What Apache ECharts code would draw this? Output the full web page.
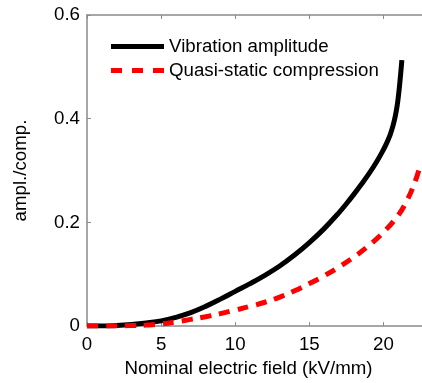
<!DOCTYPE html>
<html>
<head>
<meta charset="utf-8">
<script src="https://cdn.jsdelivr.net/npm/echarts@6/dist/echarts.min.js"></script>
<style>html,body{margin:0;padding:0;background:#fff}#c{width:422px;height:383px}</style>
</head>
<body>
<div id="c"></div>
<script>
var seriesNames = ['Vibration amplitude', 'Quasi-static compression'];
var xAxisTitle = 'Nominal electric field (kV/mm)';
var yAxisTitle = 'ampl./comp.';
var xTicks = [0, 5, 10, 15, 20];
var yTicks = [0, 0.2, 0.4, 0.6];

var vibX = [0, 1, 2, 3, 4, 5, 6, 7, 8, 9, 10, 11, 12, 13, 14, 15, 16, 17, 17.5, 18, 18.5, 19, 19.5, 19.9, 20.2, 20.45, 20.65, 20.8, 20.93, 21.03, 21.12, 21.2, 21.24];
var vibY = [0, 0, 0.001, 0.003, 0.006, 0.010, 0.017, 0.026, 0.038, 0.052, 0.067, 0.082, 0.098, 0.116, 0.137, 0.161, 0.188, 0.219, 0.236, 0.254, 0.273, 0.293, 0.315, 0.335, 0.352, 0.369, 0.387, 0.405, 0.426, 0.449, 0.474, 0.499, 0.513];

var compX = [0, 1, 2, 3, 4, 5, 6, 7, 8, 9, 10, 11, 12, 13, 14, 15, 16, 17, 18, 19, 20, 21, 21.6, 22.1, 22.4];
var compY = [0, 0, 0, 0.001, 0.002, 0.004, 0.008, 0.013, 0.018, 0.024, 0.031, 0.038, 0.046, 0.056, 0.068, 0.082, 0.097, 0.114, 0.133, 0.155, 0.181, 0.214, 0.243, 0.276, 0.302];

function pairs(xs, ys) { return xs.map(function (x, i) { return [x, ys[i]]; }); }

var font = 'Liberation Sans, Arial, sans-serif';
var fs = 18.7;
var axisGray = '#8a8a8a';
var chart = echarts.init(document.getElementById('c'), null, {renderer: 'canvas'});
chart.setOption({
  animation: false,
  backgroundColor: '#fff',
  grid: {left: 87, top: 15, bottom: 53, right: -1.3, containLabel: false},
  legend: {
    left: 106, top: 32, orient: 'vertical', itemWidth: 53, itemHeight: 5, itemGap: 5,
    textStyle: {fontFamily: font, fontSize: fs, color: '#000'},
    data: [
      {name: seriesNames[0], icon: 'path://M0,0H53V5H0Z', itemStyle: {color: '#000'}},
      {name: seriesNames[1], icon: 'path://M0,0H11V5H0Z M21,0H32V5H21Z M42,0H53V5H42Z', itemStyle: {color: '#ff0000'}}
    ]
  },
  xAxis: [{
    type: 'value', min: 0, max: 22.6, interval: 5,
    name: xAxisTitle, nameLocation: 'middle', nameGap: 30,
    nameTextStyle: {fontFamily: font, fontSize: fs, color: '#000', padding: [0, 12, 0, 0]},
    axisLine: {show: true, lineStyle: {color: axisGray, width: 1.5}},
    axisTick: {show: true, inside: true, length: 4, lineStyle: {color: axisGray}},
    axisLabel: {fontFamily: font, fontSize: fs, color: '#000', margin: 9, showMaxLabel: false,
      formatter: function (v) { return xTicks.indexOf(v) >= 0 ? String(v) : ''; }},
    splitLine: {show: false}
  }, {
    type: 'value', position: 'top', min: 0, max: 22.6, interval: 5,
    axisLine: {show: true, lineStyle: {color: axisGray, width: 1.5}},
    axisTick: {show: true, inside: true, length: 4, lineStyle: {color: axisGray}},
    axisLabel: {show: false}, splitLine: {show: false}
  }],
  yAxis: {
    type: 'value', min: 0, max: 0.6, interval: 0.2,
    name: yAxisTitle, nameLocation: 'middle', nameGap: 57, nameRotate: 90,
    nameTextStyle: {fontFamily: font, fontSize: fs, color: '#000'},
    axisLine: {show: true, lineStyle: {color: axisGray, width: 1.5}},
    axisTick: {show: true, inside: true, length: 4, lineStyle: {color: axisGray}},
    axisLabel: {fontFamily: font, fontSize: fs, color: '#000', margin: 7,
      formatter: function (v) { var r = Math.round(v * 10) / 10; return yTicks.indexOf(r) >= 0 ? (r === 0 ? '0' : r.toFixed(1)) : ''; }},
    splitLine: {show: false}
  },
  series: [{
    name: seriesNames[0], type: 'line', xAxisIndex: 0, data: pairs(vibX, vibY),
    symbol: 'none', smooth: 0.4, color: '#000',
    lineStyle: {color: '#000', width: 5}
  }, {
    name: seriesNames[1], type: 'line', xAxisIndex: 0, data: pairs(compX, compY),
    symbol: 'none', smooth: 0.4, color: '#ff0000', z: 3,
    lineStyle: {color: '#ff0000', width: 5, type: [11, 8]}
  }]
});
</script>
</body>
</html>
